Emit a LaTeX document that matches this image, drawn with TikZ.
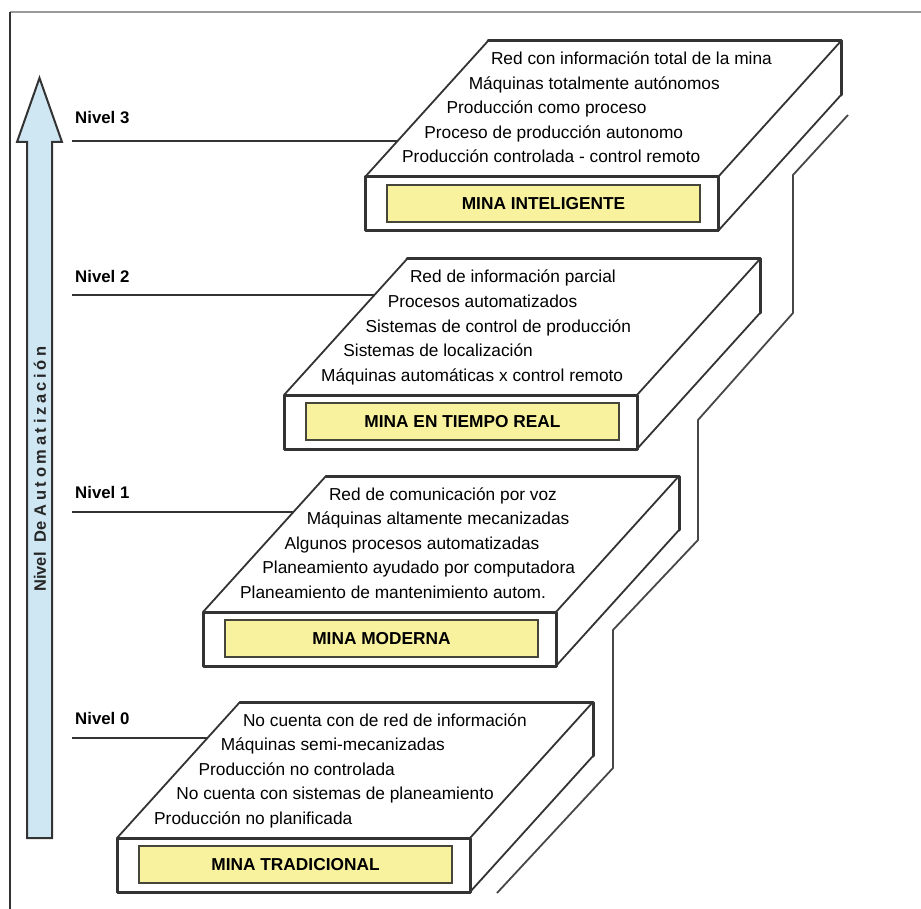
\documentclass[tikz,border=0pt]{standalone}
\usepackage{fontspec}
\setmainfont{Liberation Sans}
\usetikzlibrary{calc}

\definecolor{slabedge}{HTML}{333333}
\definecolor{labelfill}{HTML}{F8F29E}
\definecolor{labeledge}{HTML}{45453A}
\definecolor{arrowfill}{HTML}{CFE7F3}
\definecolor{framegray}{HTML}{9A9A9A}

\tikzset{
  heavy/.style={draw=slabedge, line width=3pt, line join=round, line cap=round},
  light/.style={draw=slabedge, line width=1.8pt, line cap=round},
  stairline/.style={draw=slabedge!90, line width=1.8pt, line join=round},
  levelline/.style={draw=slabedge, line width=2.8pt},
  facetext/.style={anchor=base west, inner sep=0pt, font=\fontsize{17.3}{20}\selectfont},
  leveltext/.style={anchor=base west, inner sep=0pt, font=\bfseries\fontsize{16.8}{20}\selectfont},
  minalabel/.style={draw=labeledge, line width=2.4pt, fill=labelfill, inner sep=0pt,
    minimum width=313pt, minimum height=37pt, font=\bfseries\fontsize{17.3}{20}\selectfont}
}

% One slab of the staircase: #1 prefix, #2 front-left top corner, #3 label, #4 feature lines
\newcommand{\mineslab}[4]{%
  \coordinate (#1fl) at #2;
  \coordinate (#1fr) at ($(#1fl)+(353,0)$);
  \coordinate (#1bl) at ($(#1fl)+(123,-136)$);
  \coordinate (#1br) at ($(#1fr)+(123,-136)$);
  \coordinate (#1flb) at ($(#1fl)+(0,54)$);
  \coordinate (#1frb) at ($(#1fr)+(0,54)$);
  \coordinate (#1brb) at ($(#1br)+(0,54)$);
  \fill[white] (#1fl) -- (#1bl) -- (#1br) -- (#1brb) -- (#1frb) -- (#1flb) -- cycle;
  \draw[light] (#1fl) -- (#1bl);
  \draw[light] (#1br) -- (#1fr);
  \draw[light] (#1brb) -- (#1frb);
  \draw[heavy] (#1bl) -- (#1br) -- (#1brb);
  \draw[heavy] (#1fl) rectangle (#1frb);
  \node[minalabel] (#1label) at ($(#1fl)+(178.5,26.5)$) {#3};
  \foreach \txt [count=\i from 0] in {#4} {
    \node[facetext] (#1t\i) at ($(#1fl)+({125.8-22.2*\i},{-112+24.5*\i})$) {\txt};
  }
}

\begin{document}
\begin{tikzpicture}[x=1pt,y=-1pt]
  \useasboundingbox (0,0) rectangle (921,909);
  \fill[white] (0,0) rectangle (921,909);

  % frame
  \draw[framegray, line width=2pt] (10,12) -- (921,12);
  \draw[slabedge, line width=2pt] (10,12) -- (10,909);

  % automation axis arrow
  \draw[draw=slabedge, line width=2pt, fill=arrowfill, line join=miter]
    (27,838) -- (27,142) -- (17,142) -- (39.5,78) -- (62,142) -- (52,142) -- (52,838) -- cycle;
  \node[rotate=90, inner sep=0pt, font=\bfseries\fontsize{16.5}{18}\selectfont, text=black!85]
    (axis) at (40,469) {Nivel\hspace{10pt}De\hspace{5pt}{\addfontfeature{LetterSpace=22}Automatización}};

  % back profile of the staircase
  \coordinate (w0) at (848,115);
  \coordinate (w1) at (793,175);
  \coordinate (w2) at (793,313);
  \coordinate (w3) at (698,420);
  \coordinate (w4) at (698,540);
  \coordinate (w5) at (613,630);
  \coordinate (w6) at (613,768);
  \coordinate (w7) at (497,893);
  \draw[stairline] (w0) -- (w1) -- (w2) -- (w3) -- (w4) -- (w5) -- (w6) -- (w7);

  % slabs
  \mineslab{sA}{(365,177)}{MINA INTELIGENTE}{Red con información total de la mina,Máquinas totalmente autónomos,Producción como proceso,Proceso de producción autonomo,Producción  controlada - control remoto}
  \mineslab{sB}{(284,395)}{MINA EN TIEMPO REAL}{Red de información parcial,Procesos automatizados,Sistemas de control de producción,Sistemas de localización,Máquinas automáticas x control remoto}
  \mineslab{sC}{(203,612)}{MINA MODERNA}{Red de comunicación por voz,Máquinas altamente mecanizadas,Algunos procesos automatizadas,Planeamiento ayudado por computadora,Planeamiento de mantenimiento autom.}
  \mineslab{sD}{(117,838)}{MINA TRADICIONAL}{No cuenta con de red de información,Máquinas semi-mecanizadas,Producción no controlada,No cuenta con sistemas de planeamiento,Producción no planificada}

  % level labels and their lines
  \coordinate (margin) at (72,0);
  \coordinate (hookA) at ($(sAfl)!0.265!(sAbl)$);
  \coordinate (hookB) at ($(sBfl)!0.735!(sBbl)$);
  \coordinate (hookC) at ($(sCfl)!0.735!(sCbl)$);
  \coordinate (hookD) at ($(sDfl)!0.735!(sDbl)$);
  \draw[levelline] (margin |- hookA) -- (hookA);
  \draw[levelline] (margin |- hookB) -- (hookB);
  \draw[levelline] (margin |- hookC) -- (hookC);
  \draw[levelline] (margin |- hookD) -- (hookD);
  \node[leveltext] (lvA) at (75,124) {Nivel 3};
  \node[leveltext] (lvB) at (75,283) {Nivel 2};
  \node[leveltext] (lvC) at (75,498) {Nivel 1};
  \node[leveltext] (lvD) at (75,724) {Nivel 0};
\end{tikzpicture}
\end{document}
